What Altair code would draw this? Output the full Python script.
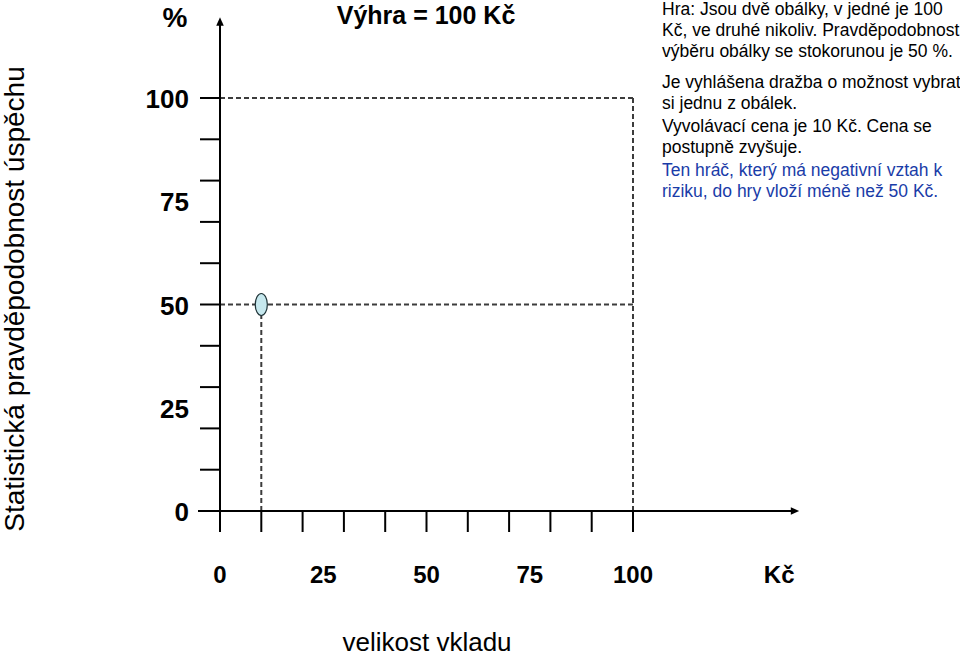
import altair as alt
import pandas as pd

# ---------------- data ----------------
win_amount = 100          # Kč – výhra
win_probability = 50      # % – pravděpodobnost výběru obálky se stokorunou
start_price = 10          # Kč – vyvolávací cena
certainty = 100           # %

x_tick_values = [0, 10, 20, 30, 40, 50, 60, 70, 80, 90, 100]
y_tick_values = [0, 10, 20, 30, 40, 50, 60, 70, 80, 90, 100]
x_label_values = [0, 25, 50, 75, 100]
x_label_texts = ["0", "25", "50", "75", "100"]
y_label_values = [0, 25, 50, 75, 100]
y_label_texts = ["0", "25", "50", "75", "100"]
unit_label = ["Kč"]
unit_label_pos = [135.4]

title_text = "Výhra = 100 Kč"
y_unit_text = "%"
x_title = "velikost vkladu"
y_title = "Statistická pravděpodobnost úspěchu"
para1 = ["Hra: Jsou dvě obálky, v jedné je 100",
         "Kč, ve druhé nikoliv. Pravděpodobnost",
         "výběru obálky se stokorunou je 50 %."]
para2 = ["Je vyhlášena dražba o možnost vybrat",
         "si jednu z obálek."]
para3 = ["Vyvolávací cena je 10 Kč. Cena se",
         "postupně zvyšuje."]
para4 = ["Ten hráč, který má negativní vztah k",
         "riziku, do hry vloží méně než 50 Kč."]

# ---------------- scales ----------------
W, H = 960, 658
PX = 4.13        # pixels per unit
X0, Y0 = 220, 511
xs = alt.Scale(domain=[-X0 / PX, (W - X0) / PX], nice=False, zero=False)
ys = alt.Scale(domain=[-(H - Y0) / PX, Y0 / PX], nice=False, zero=False)

FONT = "Liberation Sans"


def X(field=None, datum=None):
    if datum is not None:
        return alt.X(datum=datum, type="quantitative", scale=xs, axis=None)
    return alt.X(field, type="quantitative", scale=xs, axis=None)


def Y(field=None, datum=None):
    if datum is not None:
        return alt.Y(datum=datum, type="quantitative", scale=ys, axis=None)
    return alt.Y(field, type="quantitative", scale=ys, axis=None)


# dashed guide segments built from the game parameters
seg = pd.DataFrame({
    "x1": [0, win_amount, 0, start_price],
    "y1": [certainty, 0, win_probability, 0],
    "x2": [win_amount, win_amount, win_amount, start_price],
    "y2": [certainty, certainty, win_probability, win_probability],
})
pt = pd.DataFrame({"x": [start_price], "y": [win_probability]})
xt = pd.DataFrame({"v": x_tick_values})
yt = pd.DataFrame({"v": y_tick_values})
xl = pd.DataFrame({"v": x_label_values + unit_label_pos, "t": x_label_texts + unit_label})
yl = pd.DataFrame({"v": y_label_values, "t": y_label_texts})

dashed = alt.Chart(seg).mark_rule(color="#3c3c3c", strokeWidth=2, strokeDash=[5, 3]).encode(
    x=X("x1"), y=Y("y1"), x2="x2", y2="y2")

y_ticks = alt.Chart(yt).mark_rule(color="black", strokeWidth=2).encode(
    y=Y("v"), x=alt.value(200), x2=alt.value(X0))
x_ticks = alt.Chart(xt).mark_rule(color="black", strokeWidth=2).encode(
    x=X("v"), y=alt.value(Y0), y2=alt.value(532))

y_axis = alt.Chart(pt).mark_rule(color="black", strokeWidth=2).encode(
    x=X(datum=0), y=alt.value(532), y2=alt.value(22))
x_axis = alt.Chart(pt).mark_rule(color="black", strokeWidth=2).encode(
    y=Y(datum=0), x=alt.value(198), x2=alt.value(794))

y_arrow = alt.Chart(pt).mark_point(shape="M0,-1L0.9,1L-0.9,1Z", filled=True, opacity=1,
                                   color="black", size=70).encode(
    x=X(datum=0), y=alt.value(21.5))
x_arrow = alt.Chart(pt).mark_point(shape="M1,0L-1,0.9L-1,-0.9Z", filled=True, opacity=1,
                                   color="black", size=70).encode(
    y=Y(datum=0), x=alt.value(795))

point = alt.Chart(pt).mark_point(
    shape="M0,-1A0.55,1,0,1,1,0,1A0.55,1,0,1,1,0,-1Z", filled=True, size=484,
    fill="#c6e8ee", stroke="#1e3236", strokeWidth=1.2, opacity=1).encode(
    x=X("x"), y=Y("y"))

x_labels = alt.Chart(xl).mark_text(font=FONT, fontSize=24, fontWeight="bold", align="center",
                                   baseline="alphabetic", color="black").encode(
    x=X("v"), y=alt.value(583), text="t:N")
y_labels = alt.Chart(yl).mark_text(font=FONT, fontSize=26, fontWeight="bold", align="right",
                                   baseline="alphabetic", dy=10, color="black").encode(
    y=Y("v"), x=alt.value(189), text="t:N")


def txt(text, x, y, size, weight="normal", align="left", color="black", angle=0,
        baseline="alphabetic", lh=21):
    return alt.Chart(pt).mark_text(text=text, font=FONT, fontSize=size, fontWeight=weight,
                                   align=align, baseline=baseline, color=color, angle=angle,
                                   lineHeight=lh).encode(x=alt.value(x), y=alt.value(y))


title = txt(title_text, 426, 24, 25, "bold", "center")
pct = txt(y_unit_text, 175, 27, 28, "bold", "center")
xtitle = txt(x_title, 427, 651, 26, "normal", "center")
ytitle = txt(y_title, 16, 299, 28, "normal", "center", angle=270, baseline="middle")
p1 = txt(para1, 662, 15, 17.5)
p2 = txt(para2, 662, 88, 17.5)
p3 = txt(para3, 662, 132, 17.5)
p4 = txt(para4, 662, 176, 17.5, color="#1a3ca8")

chart = alt.layer(
    dashed, y_ticks, x_ticks, y_axis, x_axis, y_arrow, x_arrow, point,
    x_labels, y_labels, title, pct, xtitle, ytitle, p1, p2, p3, p4
).properties(
    width=W, height=H, padding=0, autosize=alt.AutoSizeParams(type="none"),
    background="white"
).configure_view(stroke=None)

chart.save("out.html", embed_options={"renderer": "svg", "actions": False})
